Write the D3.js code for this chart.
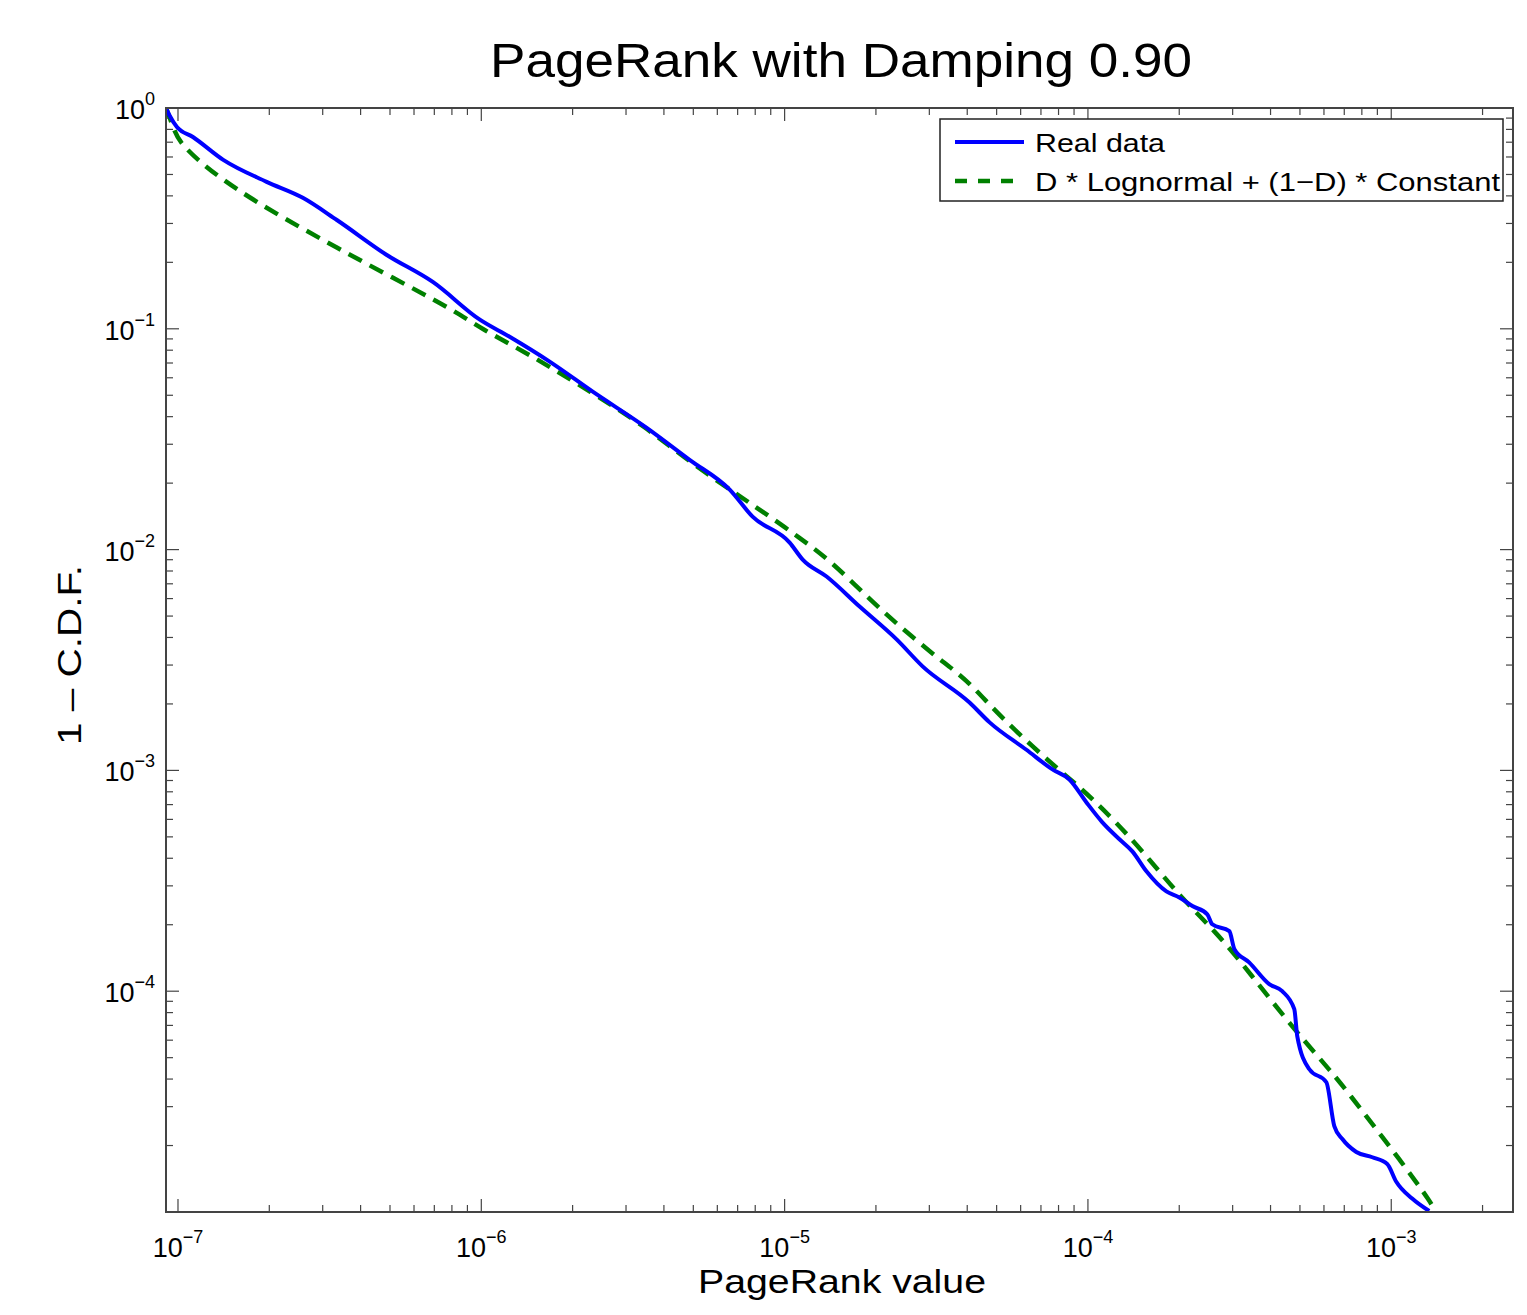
<!DOCTYPE html>
<html>
<head>
<meta charset="utf-8">
<script src="https://cdn.jsdelivr.net/npm/d3@7"></script>
<style>
  body { margin: 0; background: #fff; }
  text { font-family: 'Liberation Sans', Arial, sans-serif; fill: #000; }
</style>
</head>
<body>
<div id="graph-ctn"></div>
<script>
// data: PageRank value (x) vs 1 - CDF (y)
const realX = [9.13e-8, 9.4e-8, 9.92e-8, 1.12e-7, 1.41e-7, 1.96e-7, 2.58e-7, 3.34e-7, 4.88e-7, 6.92e-7,
  9.89e-7, 1.24e-6, 1.68e-6, 2.33e-6, 3.51e-6, 4.86e-6, 6.59e-6, 7.84e-6, 1.039e-5, 1.147e-5,
  1.375e-5, 1.767e-5, 2.34e-5, 2.85e-5, 4.07e-5, 4.74e-5, 6.27e-5, 7.64e-5, 8.69e-5, 9.89e-5,
  1.116e-4, 1.27e-4, 1.401e-4, 1.559e-4, 1.814e-4, 2.001e-4, 2.21e-4, 2.475e-4, 2.57e-4, 2.925e-4,
  3.04e-4, 3.40e-4, 3.96e-4, 4.37e-4, 4.79e-4, 4.90e-4, 5.37e-4, 6.11e-4, 6.49e-4, 6.90e-4,
  7.67e-4, 8.66e-4, 9.70e-4, 1.039e-3, 1.172e-3, 1.334e-3];
const realY = [1.0, 0.92, 0.82, 0.739, 0.582, 0.463, 0.392, 0.311, 0.216, 0.163,
  0.110, 0.092, 0.071, 0.0519, 0.0356, 0.0255, 0.0187, 0.0141, 0.01076, 0.00901,
  0.00755, 0.00552, 0.00392, 0.00296, 0.00203, 0.00165, 0.00124, 0.00101, 0.000910, 0.000716,
  0.000582, 0.000488, 0.000430, 0.000349, 0.000283, 0.000266, 0.000243, 0.000223, 0.000201, 0.000187,
  0.000155, 0.000135, 0.0001076, 0.0001, 8.29e-5, 6.25e-5, 4.43e-5, 3.87e-5, 2.45e-5, 2.14e-5,
  1.87e-5, 1.77e-5, 1.65e-5, 1.37e-5, 1.15e-5, 1.01e-5];

const fitX = [9.13e-8, 9.27e-8, 9.7e-8, 1.015e-7, 1.209e-7, 1.564e-7, 2.22e-7, 3.34e-7, 5.11e-7, 7.87e-7,
  1.012e-6, 1.413e-6, 2.33e-6, 3.51e-6, 4.61e-6, 6.59e-6, 8.27e-6, 1.12e-5, 1.439e-5, 1.863e-5,
  2.393e-5, 3.24e-5, 3.98e-5, 4.99e-5, 6.57e-5, 8.49e-5, 9.59e-5, 1.242e-4, 1.594e-4, 2.048e-4,
  2.65e-4, 3.40e-4, 4.86e-4, 6.39e-4, 8.27e-4, 1.062e-3, 1.365e-3, 1.42e-3];
const fitY = [1.0, 0.949, 0.795, 0.695, 0.552, 0.426, 0.318, 0.233, 0.170, 0.1245,
  0.0989, 0.0778, 0.0513, 0.0356, 0.0264, 0.0187, 0.0152, 0.01133, 0.00874, 0.00613,
  0.00449, 0.00318, 0.00258, 0.00183, 0.00128, 0.000940, 0.000820, 0.000582, 0.000396, 0.000261,
  0.000185, 0.000122, 6.52e-5, 4.30e-5, 2.72e-5, 1.74e-5, 1.09e-5, 9.6e-6];

const xTickExp = [-7, -6, -5, -4, -3];
const yTickExp = [0, -1, -2, -3, -4];
const legendLabels = ['Real data', 'D * Lognormal + (1\u2212D) * Constant'];

// set the dimensions and margins of the graph
const margin = { top: 108, right: 14, bottom: 103, left: 166 },
    width = 1527 - margin.left - margin.right,
    height = 1315 - margin.top - margin.bottom;

const root = d3.select('#graph-ctn')
    .append('svg')
    .attr('width', 1527)
    .attr('height', 1315);

const svg = root.append('g')
    .attr('transform', `translate(${margin.left}, ${margin.top})`);

const x = d3.scaleLog().domain([9.13e-8, 2.52e-3]).range([0, width]);
const y = d3.scaleLog().domain([1e-5, 1]).range([height, 0]);

svg.append('clipPath').attr('id', 'clip')
    .append('rect').attr('width', width).attr('height', height);

// minor + major ticks on all four sides, pointing inward
function ticksFor(scale) {
    const [a, b] = scale.domain();
    const out = [];
    for (let e = -8; e <= 0; e++) {
        for (let m = 1; m <= 9; m++) {
            const v = m * Math.pow(10, e);
            if (v >= a * 0.999 && v <= b * 1.001) out.push({ v: v, major: m === 1 });
        }
    }
    return out;
}

const tickColor = '#444';
const xt = ticksFor(x), yt = ticksFor(y);

const tg = svg.append('g').attr('stroke', tickColor).attr('stroke-width', 1.2);
xt.forEach(t => {
    const len = t.major ? 13 : 7;
    tg.append('line').attr('x1', x(t.v)).attr('x2', x(t.v)).attr('y1', height).attr('y2', height - len);
    tg.append('line').attr('x1', x(t.v)).attr('x2', x(t.v)).attr('y1', 0).attr('y2', len);
});
yt.forEach(t => {
    const len = t.major ? 13 : 7;
    tg.append('line').attr('y1', y(t.v)).attr('y2', y(t.v)).attr('x1', 0).attr('x2', len);
    tg.append('line').attr('y1', y(t.v)).attr('y2', y(t.v)).attr('x1', width).attr('x2', width - len);
});

// tick labels: 10^n
xTickExp.forEach(e => {
    const t = svg.append('text')
        .attr('x', x(Math.pow(10, e)))
        .attr('y', height + 45)
        .attr('text-anchor', 'middle')
        .style('font-size', '27px');
    t.append('tspan').text('10');
    t.append('tspan').attr('dy', -14).style('font-size', '18px').text(e === 0 ? '0' : '\u2212' + (-e));
});
yTickExp.forEach(e => {
    const t = svg.append('text')
        .attr('x', -11)
        .attr('y', y(Math.pow(10, e)) + 11)
        .attr('text-anchor', 'end')
        .style('font-size', '27px');
    t.append('tspan').text('10');
    t.append('tspan').attr('dy', -14).style('font-size', '18px').text(e === 0 ? '0' : '\u2212' + (-e));
});

// lines
const line = (xs, ys, curve) => d3.line()
    .x(i => x(xs[i]))
    .y(i => y(ys[i]))
    .curve(curve)(d3.range(xs.length));

const plot = svg.append('g').attr('clip-path', 'url(#clip)');

plot.append('path')
    .attr('d', line(fitX, fitY, d3.curveBasis))
    .attr('fill', 'none')
    .attr('stroke', '#008000')
    .attr('stroke-width', 4.5)
    .attr('stroke-dasharray', '15,9');

plot.append('path')
    .attr('d', line(realX, realY, d3.curveMonotoneX))
    .attr('fill', 'none')
    .attr('stroke', '#0000ff')
    .attr('stroke-width', 4);

// box
svg.append('rect')
    .attr('width', width).attr('height', height)
    .attr('fill', 'none')
    .attr('stroke', tickColor)
    .attr('stroke-width', 2);

// legend
const lg = root.append('g').attr('transform', 'translate(940, 119)');
lg.append('rect')
    .attr('width', 563).attr('height', 82)
    .attr('fill', '#fff').attr('stroke', '#222').attr('stroke-width', 1.5);
lg.append('line').attr('x1', 15).attr('x2', 84).attr('y1', 23).attr('y2', 23)
    .attr('stroke', '#0000ff').attr('stroke-width', 4);
lg.append('line').attr('x1', 15).attr('x2', 84).attr('y1', 62).attr('y2', 62)
    .attr('stroke', '#008000').attr('stroke-width', 4.5).attr('stroke-dasharray', '12,11');
const legendWidths = [130, 465];
legendLabels.forEach((s, i) => {
    lg.append('text').attr('x', 95).attr('y', 33 + i * 39)
        .style('font-size', '26px')
        .attr('textLength', legendWidths[i])
        .attr('lengthAdjust', 'spacingAndGlyphs')
        .text(s);
});

// titles
root.append('text')
    .attr('x', 841).attr('y', 77)
    .attr('text-anchor', 'middle')
    .style('font-size', '48px')
    .attr('textLength', 702)
    .attr('lengthAdjust', 'spacingAndGlyphs')
    .text('PageRank with Damping 0.90');

root.append('text')
    .attr('x', 842).attr('y', 1293)
    .attr('text-anchor', 'middle')
    .style('font-size', '33px')
    .attr('textLength', 288)
    .attr('lengthAdjust', 'spacingAndGlyphs')
    .text('PageRank value');

root.append('text')
    .attr('transform', 'translate(81, 655) rotate(-90)')
    .attr('text-anchor', 'middle')
    .style('font-size', '33px')
    .attr('textLength', 180)
    .attr('lengthAdjust', 'spacingAndGlyphs')
    .text('1 \u2013 C.D.F.');
</script>
</body>
</html>
